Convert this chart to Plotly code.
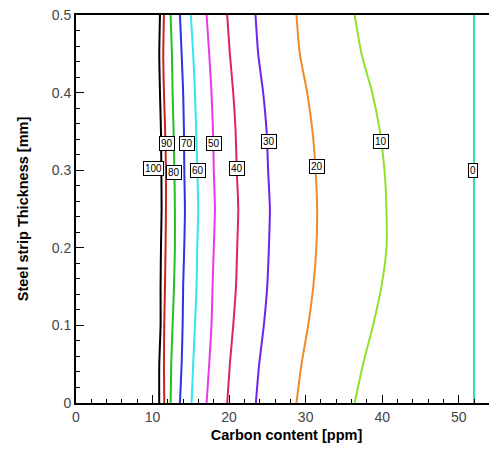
import plotly.graph_objects as go

# Thickness positions (mm) at which each contour's carbon content was read
thickness = [0.0, 0.05, 0.10, 0.15, 0.20, 0.25, 0.30, 0.35, 0.40, 0.45, 0.50]

levels = [100, 90, 80, 70, 60, 50, 40, 30, 20, 10, 0]

# Carbon content [ppm] of each contour line at the thickness positions above
c100 = [10.87, 10.88, 11.05, 11.05, 11.10, 11.18, 11.15, 11.10, 10.97, 10.88, 10.97]
c90 = [11.53, 11.49, 11.53, 11.62, 11.70, 11.75, 11.75, 11.65, 11.49, 11.40, 11.49]
c80 = [12.36, 12.44, 12.62, 12.80, 12.92, 12.92, 12.85, 12.75, 12.62, 12.53, 12.36]
c70 = [13.58, 13.80, 13.93, 14.00, 14.14, 14.23, 14.15, 14.10, 14.00, 13.80, 13.58]
c60 = [15.10, 15.31, 15.54, 15.75, 15.84, 15.97, 15.85, 15.70, 15.54, 15.31, 15.00]
c50 = [17.06, 17.40, 17.70, 17.84, 18.00, 18.15, 18.00, 17.90, 17.70, 17.40, 17.06]
c40 = [19.75, 20.10, 20.54, 20.90, 21.06, 21.20, 21.00, 20.85, 20.54, 20.10, 19.75]
c30 = [23.50, 23.93, 24.54, 24.98, 25.20, 25.33, 25.10, 24.90, 24.45, 23.80, 23.45]
c20 = [28.80, 29.46, 30.33, 31.00, 31.40, 31.50, 31.30, 30.90, 30.20, 29.24, 28.80]
c10 = [36.40, 37.50, 38.80, 39.90, 40.56, 40.56, 40.30, 39.70, 38.70, 37.30, 36.40]
c0 = [52.0, 52.0, 52.0, 52.0, 52.0, 52.0, 52.0, 52.0, 52.0, 52.0, 52.0]

series = [c100, c90, c80, c70, c60, c50, c40, c30, c20, c10, c0]

colors = ["#000000", "#cc2222", "#22c022", "#2a32e6", "#33e6f0", "#e83ae8",
          "#e0226a", "#7222ee", "#f08c26", "#8ee22e", "#30e096"]

# Contour label positions (carbon, thickness)
label_x = [10.1, 11.9, 12.8, 14.5, 16.0, 18.05, 20.97, 25.2, 31.5, 39.9, 51.8]
label_y = [0.302, 0.335, 0.297, 0.335, 0.299, 0.335, 0.302, 0.337, 0.305, 0.337, 0.300]

# Axis ticks
x_ticks = [0, 10, 20, 30, 40, 50]
y_ticks = [0, 0.1, 0.2, 0.3, 0.4, 0.5]
y_tick_text = ["0", "0.1", "0.2", "0.3", "0.4", "0.5"]

fig = go.Figure()
for lev, xs, col in zip(levels, series, colors):
    fig.add_trace(go.Scatter(x=xs, y=thickness, mode="lines",
                             line=dict(color=col, width=2, shape="spline", smoothing=0.6),
                             name=str(lev), showlegend=False, hoverinfo="skip"))

for lev, lx, ly in zip(levels, label_x, label_y):
    fig.add_annotation(x=lx, y=ly, text=str(lev), showarrow=False,
                       font=dict(family="Liberation Sans, Arial, sans-serif", size=10, color="#000000"),
                       bgcolor="white", bordercolor="black", borderwidth=1, borderpad=1)

axis_font = dict(family="Liberation Sans, Arial, sans-serif", size=14, color="#444444")
title_font = dict(family="Liberation Sans, Arial, sans-serif", size=14.5, color="#000000")

fig.update_layout(
    width=489, height=441,
    margin=dict(l=68, r=0, t=7, b=46, autoexpand=False),
    paper_bgcolor="white", plot_bgcolor="white",
    xaxis=dict(range=[0, 55], tickvals=x_ticks, showgrid=False, zeroline=False,
               showline=True, linecolor="black", linewidth=2, mirror=True,
               ticks="inside", ticklen=8, tickwidth=1, tickcolor="black",
               minor=dict(ticks="inside", dtick=2, tick0=0, ticklen=4, tickcolor="black", showgrid=False),
               tickfont=axis_font, automargin=False, ticklabeloverflow="allow",
               title=dict(text="<b>Carbon content [ppm]</b>", font=title_font, standoff=6)),
    yaxis=dict(range=[0, 0.5], tickvals=y_ticks, ticktext=y_tick_text, showgrid=False, zeroline=False,
               showline=True, linecolor="black", linewidth=2, mirror=False,
               ticks="inside", ticklen=8, tickwidth=1, tickcolor="black",
               minor=dict(ticks="inside", dtick=0.02, tick0=0, ticklen=4, tickcolor="black", showgrid=False),
               tickfont=axis_font, automargin=False, ticklabeloverflow="allow",
               title=dict(text="<b>Steel strip Thickness [mm]</b>", font=title_font, standoff=20)),
)

fig.write_html("out.html")
